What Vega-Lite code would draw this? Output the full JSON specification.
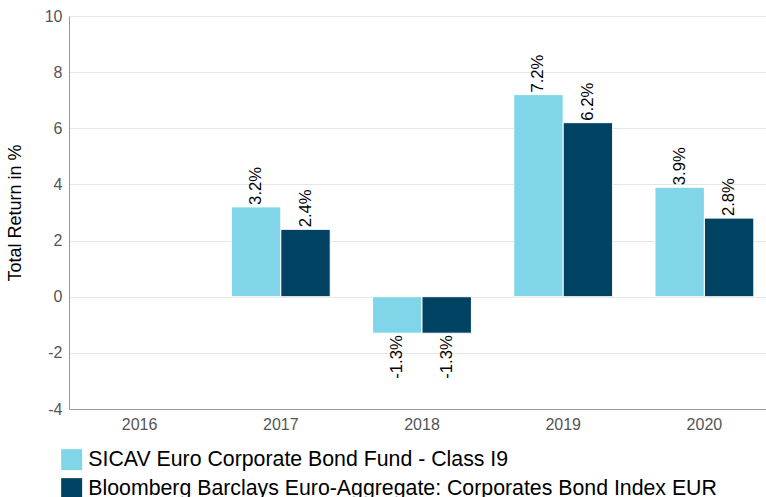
{
  "$schema": "https://vega.github.io/schema/vega-lite/v6.json",
  "width": 706,
  "height": 393,
  "autosize": {"type": "none"},
  "padding": {"left": 69, "top": 16, "right": 0, "bottom": 88},
  "background": "white",
  "config": {
    "view": {"stroke": null},
    "font": "Liberation Sans"
  },
  "data": {
    "values": [
      {"year": "2017", "series": "SICAV Euro Corporate Bond Fund - Class I9", "value": 3.2, "label": "3.2%"},
      {"year": "2017", "series": "Bloomberg Barclays Euro-Aggregate: Corporates Bond Index EUR", "value": 2.4, "label": "2.4%"},
      {"year": "2018", "series": "SICAV Euro Corporate Bond Fund - Class I9", "value": -1.3, "label": "-1.3%"},
      {"year": "2018", "series": "Bloomberg Barclays Euro-Aggregate: Corporates Bond Index EUR", "value": -1.3, "label": "-1.3%"},
      {"year": "2019", "series": "SICAV Euro Corporate Bond Fund - Class I9", "value": 7.2, "label": "7.2%"},
      {"year": "2019", "series": "Bloomberg Barclays Euro-Aggregate: Corporates Bond Index EUR", "value": 6.2, "label": "6.2%"},
      {"year": "2020", "series": "SICAV Euro Corporate Bond Fund - Class I9", "value": 3.9, "label": "3.9%"},
      {"year": "2020", "series": "Bloomberg Barclays Euro-Aggregate: Corporates Bond Index EUR", "value": 2.8, "label": "2.8%"}
    ]
  },
  "encoding": {
    "x": {
      "field": "year",
      "type": "nominal",
      "scale": {"domain": ["2016", "2017", "2018", "2019", "2020"], "paddingInner": 0.3, "paddingOuter": 0.15},
      "axis": {
        "title": null,
        "labelAngle": 0,
        "labelFontSize": 16,
        "labelColor": "#555555",
        "labelPadding": 7,
        "ticks": false,
        "domainColor": "#999999",
        "grid": false
      }
    },
    "xOffset": {
      "field": "series",
      "type": "nominal",
      "scale": {"domain": ["SICAV Euro Corporate Bond Fund - Class I9", "Bloomberg Barclays Euro-Aggregate: Corporates Bond Index EUR"], "paddingInner": 0, "paddingOuter": 0}
    },
    "y": {
      "field": "value",
      "type": "quantitative",
      "scale": {"domain": [-4, 10], "nice": false},
      "axis": {
        "title": "Total Return in %",
        "titleFontSize": 18,
        "titleFontWeight": "normal",
        "titleColor": "#000000",
        "titlePadding": 20,
        "values": [-4, -2, 0, 2, 4, 6, 8, 10],
        "labelExpr": "toString(datum.value)",
        "labelFontSize": 16,
        "labelColor": "#555555",
        "labelPadding": 7,
        "ticks": false,
        "domainColor": "#999999",
        "gridColor": "#e6e6e6"
      }
    }
  },
  "layer": [
    {
      "mark": {"type": "bar", "stroke": "white", "strokeWidth": 1},
      "encoding": {
        "color": {
          "field": "series",
          "type": "nominal",
          "scale": {"domain": ["SICAV Euro Corporate Bond Fund - Class I9", "Bloomberg Barclays Euro-Aggregate: Corporates Bond Index EUR"], "range": ["#80d6e8", "#004261"]},
          "legend": {
            "title": null,
            "orient": "none",
            "legendX": -8,
            "legendY": 433,
            "direction": "vertical",
            "symbolType": "square",
            "symbolSize": 441,
            "symbolStrokeWidth": 0,
            "labelFontSize": 21.3,
            "labelColor": "#000000",
            "labelLimit": 800,
            "rowPadding": 6,
            "labelOffset": 6
          }
        }
      }
    },
    {
      "transform": [{"filter": "datum.value >= 0"}],
      "mark": {"type": "text", "angle": -90, "align": "left", "baseline": "middle", "dx": 2, "fontSize": 16.7, "color": "#000000"},
      "encoding": {
        "text": {"field": "label", "type": "nominal"},
        "detail": {"field": "series"}
      }
    },
    {
      "transform": [{"filter": "datum.value < 0"}],
      "mark": {"type": "text", "angle": -90, "align": "right", "baseline": "middle", "dx": -2, "fontSize": 16.7, "color": "#000000"},
      "encoding": {
        "text": {"field": "label", "type": "nominal"},
        "detail": {"field": "series"}
      }
    }
  ]
}
